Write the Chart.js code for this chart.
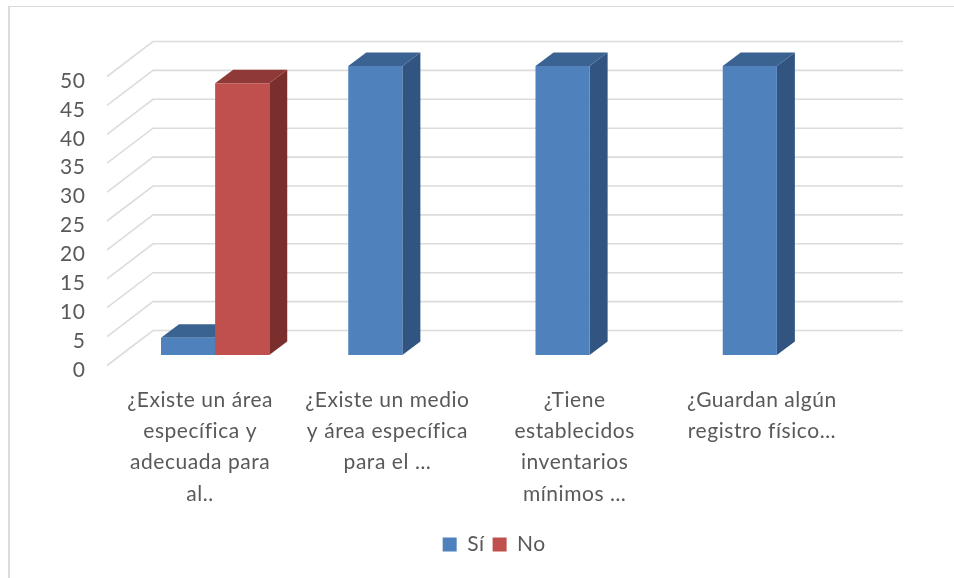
<!DOCTYPE html>
<html>
<head>
<meta charset="utf-8">
<script src="https://cdn.jsdelivr.net/npm/chart.js@4"></script>
<style>
  html, body { margin: 0; padding: 0; background: #fff; overflow: hidden; }
  #frame { position: absolute; left: 8px; top: 6px; width: 946px; height: 572px; border-left: 2px solid #dcdcdc; border-top: 1px solid #d9d9d9; }
  canvas { position: absolute; left: 0; top: 0; filter: blur(0.4px); }
</style>
</head>
<body>
<div id="frame"></div>
<canvas id="barChart" width="954" height="578"></canvas>
<script>
// Datos
const categories = [
    ["¿Existe un área", "específica y", "adecuada para", "al.."],
    ["¿Existe un medio", "y área específica", "para el …"],
    ["¿Tiene", "establecidos", "inventarios", "mínimos …"],
    ["¿Guardan algún", "registro físico…"]
];
const si = [3, 50, 50, 50];
const no = [47, null, null, null];

const textColor = '#595959';
const fontName = 'Lato';
const textSpacing = '0.55px';

// Profundidad del falso 3D
const barDepthX = 18, barDepthY = 13.5;
const wallUp = 24.5, wallRight = 31.5, floorDown = 10.5, floorLeft = 14.5;

const fake3d = {
    id: 'fake3d',
    beforeUpdate(chart) {
        // el texto del original va mas espaciado
        chart.ctx.letterSpacing = textSpacing;
    },
    beforeDraw(chart) {
        chart.ctx.letterSpacing = textSpacing;
    },
    afterLayout(chart) {
        // la leyenda del original esta corrida a la derecha
        chart.legend.left += 59;
        chart.legend.right += 59;
    },
    beforeDatasetsDraw(chart) {
        const c = chart.ctx, y = chart.scales.y, area = chart.chartArea;

        // rejilla: pared del fondo y diagonales del piso
        c.save();
        c.strokeStyle = '#dcdcdc';
        c.lineWidth = 1.6;
        y.ticks.forEach(t => {
            const py = y.getPixelForValue(t.value);
            c.beginPath();
            c.moveTo(area.left - floorLeft, py + floorDown);
            c.lineTo(area.left + wallRight, py - wallUp);
            c.lineTo(area.right + wallRight + 1, py - wallUp);
            c.stroke();
        });

        // caras superior y lateral de cada barra
        const faces = [['#3b6391', '#315580'], ['#8f3a38', '#7b2f2d']];
        chart.data.datasets.forEach((ds, i) => {
            chart.getDatasetMeta(i).data.forEach((bar, j) => {
                if (ds.data[j] === null) return;
                const r = bar.x + bar.width / 2, l = bar.x - bar.width / 2;
                c.fillStyle = faces[i][0];
                c.beginPath();
                c.moveTo(l, bar.y);
                c.lineTo(l + barDepthX, bar.y - barDepthY);
                c.lineTo(r + barDepthX, bar.y - barDepthY);
                c.lineTo(r, bar.y);
                c.closePath();
                c.fill();
                c.fillStyle = faces[i][1];
                c.beginPath();
                c.moveTo(r, bar.y);
                c.lineTo(r + barDepthX, bar.y - barDepthY);
                c.lineTo(r + barDepthX, bar.base - barDepthY);
                c.lineTo(r, bar.base);
                c.closePath();
                c.fill();
            });
        });
        c.restore();
    }
};

const ctx = document.getElementById('barChart').getContext('2d');
const barChart = new Chart(ctx, {
    type: 'bar',
    data: {
        labels: categories,
        datasets: [
            { label: 'Sí', data: si, backgroundColor: '#4f81bd' },
            { label: 'No', data: no, backgroundColor: '#c0504d' }
        ]
    },
    options: {
        responsive: false,
        animation: false,
        categoryPercentage: 0.578,
        barPercentage: 1,
        layout: { padding: { top: 66, right: 83.5, bottom: 13, left: 0 } },
        plugins: {
            legend: {
                position: 'bottom',
                onClick: null,
                labels: {
                    boxWidth: 14,
                    boxHeight: 14,
                    padding: 8,
                    color: textColor,
                    font: { family: fontName, size: 21 }
                }
            },
            tooltip: { enabled: false }
        },
        scales: {
            x: {
                grid: { display: false },
                border: { display: false },
                afterFit(scale) { scale.height = 171; },
                ticks: {
                    autoSkip: false,
                    maxRotation: 0,
                    minRotation: 0,
                    labelOffset: -15,
                    padding: 22,
                    color: textColor,
                    font: { family: fontName, size: 21, lineHeight: 1.48 }
                }
            },
            y: {
                min: 0,
                max: 50,
                grid: { display: false },
                border: { display: false },
                afterFit(scale) { scale.width = 121.5; },
                ticks: {
                    stepSize: 5,
                    labelOffset: 15,
                    padding: 28,
                    color: textColor,
                    font: { family: fontName, size: 21 }
                }
            }
        }
    },
    plugins: [fake3d]
});
</script>
</body>
</html>
